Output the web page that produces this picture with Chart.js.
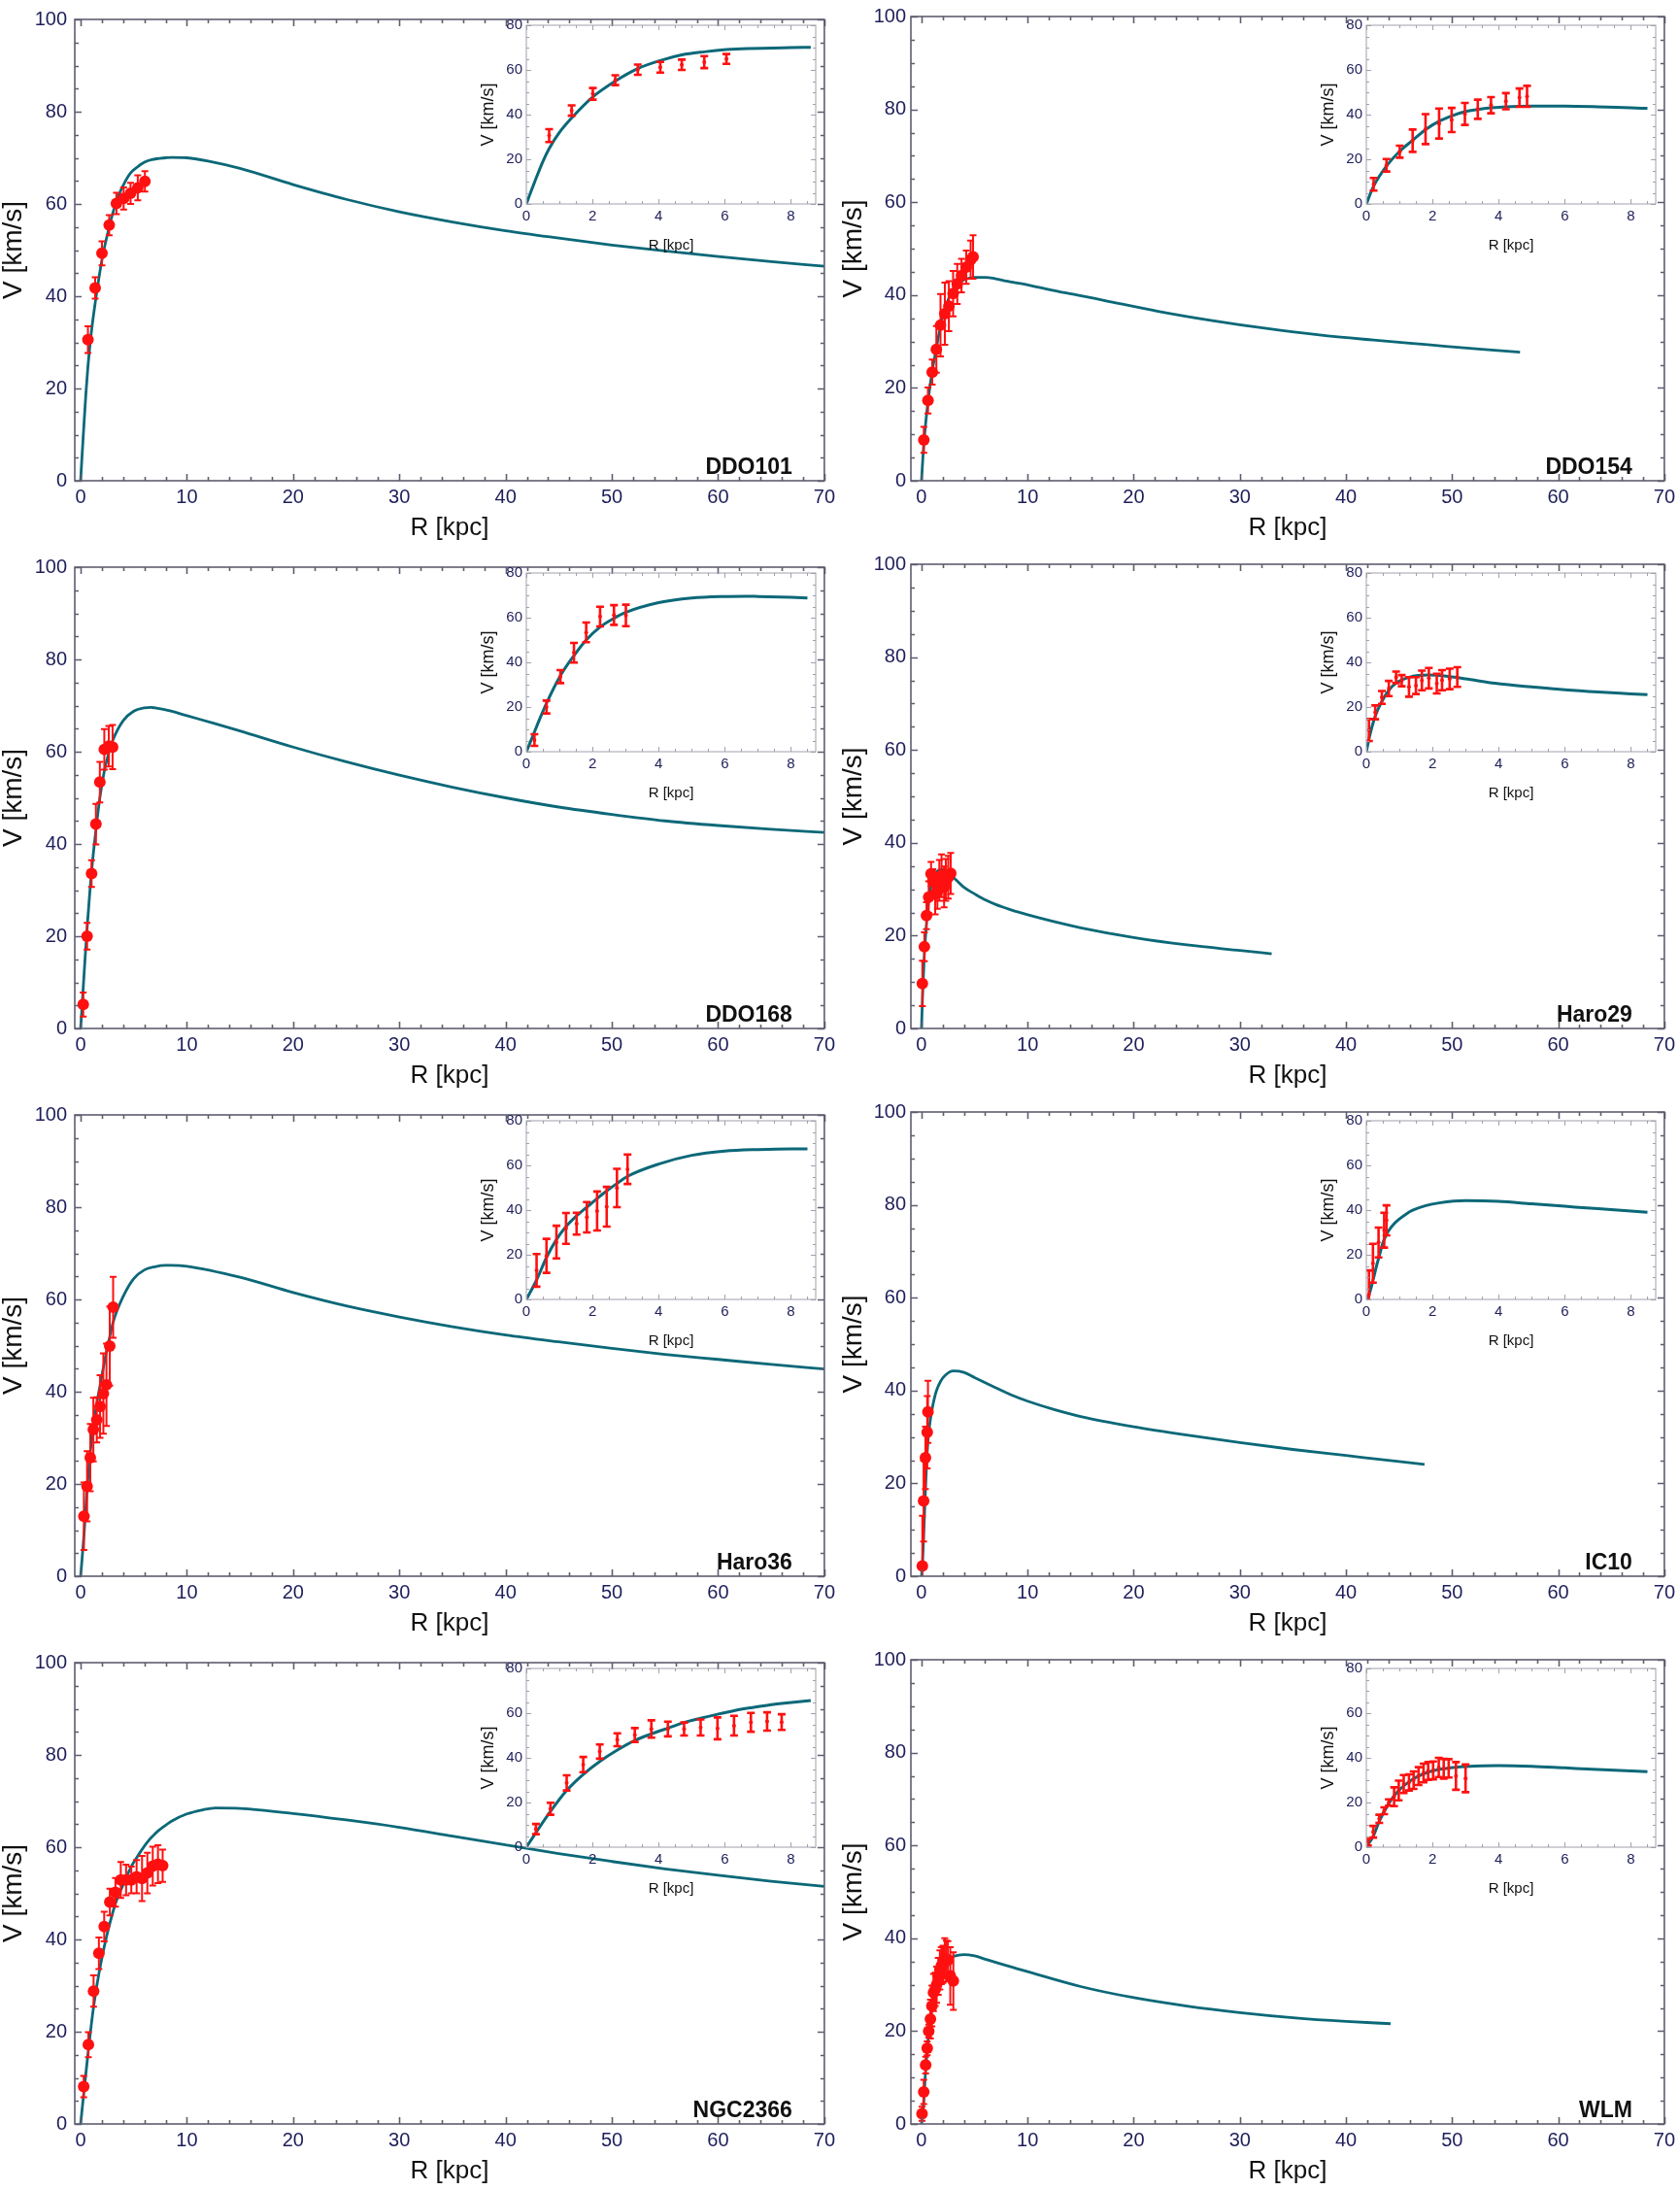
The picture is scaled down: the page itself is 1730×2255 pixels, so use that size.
<!DOCTYPE html>
<html>
<head>
<meta charset="utf-8">
<script src="https://cdn.jsdelivr.net/npm/chart.js@4.4.1/dist/chart.umd.min.js"></script>
<style>
  body { margin: 0; background: #fff; width: 1730px; height: 2255px; overflow: hidden; position: relative; }
  canvas { position: absolute; }
</style>
</head>
<body>
<script>
// tick labels
const mainXTicks = [0, 10, 20, 30, 40, 50, 60, 70];
const mainYTicks = [0, 20, 40, 60, 80, 100];
const insetXTicks = [0, 2, 4, 6, 8];
const insetYTicks = [0, 20, 40, 60, 80];

// DDO101
const ddo101R = [0.69, 1.37, 2.01, 2.69, 3.37, 4.05, 4.70, 5.38, 6.05];
const ddo101V = [30.6, 41.8, 49.3, 55.4, 60.1, 61.2, 62.3, 63.5, 64.9];
const ddo101E = [2.9, 2.3, 2.6, 2.2, 2.3, 2.4, 2.3, 2.7, 2.2];
const ddo101CurveR = [0, 0.1, 0.25, 0.5, 0.69, 1.0, 1.37, 2.0, 2.69, 3.37, 4.05, 4.7, 5.38, 6.05, 6.7, 8, 8.6, 10, 12, 15, 20, 25, 30, 35, 40, 45, 50, 55, 60, 65, 70];
const ddo101CurveV = [0, 4, 9.8, 19, 24.8, 32, 38.5, 47.8, 55, 60.6, 64.2, 66.7, 68.1, 69.1, 69.6, 70, 70.1, 70, 69.3, 67.7, 64.2, 61, 58.3, 56.1, 54.2, 52.6, 51.1, 49.8, 48.6, 47.5, 46.5];

// DDO154
const ddo154R = [0.22, 0.61, 1.01, 1.40, 1.79, 2.20, 2.58, 2.98, 3.37, 3.77, 4.22, 4.63, 4.86];
const ddo154V = [8.8, 17.3, 23.4, 28.3, 33.5, 36, 37.6, 40.3, 42.4, 44.2, 46, 47.6, 48.2];
const ddo154E = [2.8, 2.8, 2.7, 5, 6.7, 6.7, 5.4, 4.9, 4.3, 3.6, 3.6, 4.1, 4.7];
const ddo154CurveR = [0, 0.22, 0.61, 1.0, 1.4, 1.79, 2.2, 2.58, 2.98, 3.37, 3.77, 4.22, 5, 6, 7, 8, 8.5, 10, 12.2, 14.7, 17.3, 22.3, 27.4, 32.5, 37.5, 42.6, 47.7, 52.8, 56.4];
const ddo154CurveV = [0, 8, 17, 23.5, 28.5, 33.3, 37, 39.4, 41.3, 42.3, 43, 43.5, 43.8, 43.8, 43.5, 43, 42.8, 42.2, 41.1, 40, 38.8, 36.5, 34.5, 32.8, 31.4, 30.3, 29.3, 28.3, 27.7];

// DDO168
const ddo168R = [0.245, 0.61, 1.03, 1.44, 1.81, 2.23, 2.65, 3.01];
const ddo168V = [5.2, 20, 33.6, 44.3, 53.4, 60.5, 61.2, 61];
const ddo168E = [2.6, 2.9, 2.9, 4.4, 4.4, 4.4, 4.4, 4.8];
const ddo168CurveR = [0, 0.1, 0.25, 0.4, 0.61, 1.03, 1.44, 1.81, 2.23, 2.65, 3.0, 4, 5, 6, 6.6, 7, 8, 8.5, 10, 12.5, 15, 20, 25, 30, 35, 40, 45, 50, 55, 60, 65, 70];
const ddo168CurveV = [0, 3.5, 9, 14.5, 21.7, 34, 43, 50, 55.8, 59.7, 62.3, 66.7, 68.8, 69.5, 69.6, 69.5, 69.1, 68.8, 67.8, 66.2, 64.5, 61, 57.8, 54.9, 52.3, 50, 48, 46.4, 45, 44, 43.2, 42.5];

// Haro29
const haro29R = [0.08, 0.27, 0.47, 0.68, 0.90, 1.07, 1.29, 1.50, 1.68, 1.89, 2.13, 2.29, 2.52, 2.75];
const haro29V = [9.7, 17.6, 24.3, 28.3, 33.3, 31.8, 29, 29.6, 31.9, 32.9, 30.5, 32, 32.6, 33.4];
const haro29E = [4.9, 3.1, 2.9, 3.4, 2.6, 2.5, 4.4, 3.8, 4.4, 4.6, 4.4, 4.5, 4.6, 4.4];
const haro29CurveR = [0, 0.1, 0.27, 0.47, 0.68, 0.9, 1.29, 1.89, 2.52, 3, 4, 5, 6, 7, 8, 8.5, 10, 12, 15, 20, 25, 30, 33];
const haro29CurveV = [0, 7, 16, 22.5, 27.5, 30.7, 33.3, 34.3, 33.6, 32.6, 30.4, 29, 27.7, 26.7, 25.9, 25.5, 24.5, 23.3, 21.7, 19.6, 18, 16.8, 16.1];

// Haro36
const haro36R = [0.31, 0.61, 0.91, 1.20, 1.52, 1.83, 2.14, 2.43, 2.74, 3.06];
const haro36V = [13, 19.5, 25.7, 31.8, 33.9, 36.8, 39.6, 41.5, 49.9, 58.3];
const haro36E = [7.3, 7.6, 7.3, 6.9, 4.9, 6.8, 8.7, 8.9, 8.6, 6.6];
const haro36CurveR = [0, 0.31, 0.61, 0.91, 1.2, 1.52, 1.83, 2.14, 2.43, 2.74, 3.06, 4, 5, 6, 7, 8, 8.5, 10, 15, 20, 25, 30, 35, 40, 45, 50, 55, 60, 65, 70];
const haro36CurveV = [0, 8.7, 18.8, 26.8, 32.6, 37.4, 41.3, 45.2, 48.6, 51.9, 55.1, 60.6, 64.5, 66.4, 67.1, 67.4, 67.4, 67.2, 64.8, 61.5, 58.6, 56.2, 54.1, 52.3, 50.8, 49.4, 48.1, 47, 45.9, 44.9];

// IC10
const ic10R = [0.08, 0.20, 0.37, 0.54, 0.61];
const ic10V = [2.2, 16.2, 25.5, 31, 35.4];
const ic10E = [10.8, 8.7, 6.7, 7.8, 6.7];
const ic10CurveR = [0, 0.1, 0.2, 0.3, 0.4, 0.5, 0.6, 0.7, 0.85, 1.0, 1.2, 1.4, 1.8, 2.2, 3, 4, 5, 6, 7, 8.5, 10, 12.5, 15, 20, 25, 30, 35, 40, 45, 47.4];
const ic10CurveV = [0, 3, 8.5, 14.5, 20, 25.3, 28.8, 31.3, 34, 36, 38.2, 39.9, 42, 43.2, 44.2, 43.9, 42.8, 41.7, 40.6, 39, 37.7, 35.9, 34.4, 32.2, 30.4, 28.8, 27.3, 26, 24.7, 24.1];

// NGC2366
const ngc2366R = [0.29, 0.73, 1.22, 1.72, 2.22, 2.75, 3.28, 3.78, 4.28, 4.77, 5.27, 5.78, 6.28, 6.79, 7.28, 7.72];
const ngc2366V = [8.1, 17.2, 28.8, 37, 42.8, 48.1, 50.2, 52.9, 52.9, 52.9, 53.6, 53.2, 54.4, 55.9, 56.3, 56];
const ngc2366E = [2.3, 2.7, 3.4, 3.4, 3.2, 2.9, 3.1, 3.9, 3.3, 2.9, 3.6, 4.9, 4.4, 4.2, 4.1, 3.5];
const ngc2366CurveR = [0, 0.29, 0.73, 1.22, 1.72, 2.22, 2.75, 3.28, 3.78, 4.28, 4.77, 5.27, 5.78, 6.28, 6.79, 7.28, 7.72, 8.6, 10, 11.5, 12.7, 15, 20, 25, 30, 35, 40, 45, 50, 55, 60, 65, 70];
const ngc2366CurveV = [0, 6.5, 16, 25.4, 32.6, 38.4, 43.5, 47.8, 50.7, 53.3, 55.8, 57.7, 59.5, 61.1, 62.4, 63.5, 64.3, 65.7, 67.2, 68.1, 68.5, 68.4, 67.3, 65.9, 64.3, 62.4, 60.5, 58.6, 56.9, 55.3, 53.9, 52.6, 51.5];

// WLM
const wlmR = [0.05, 0.21, 0.39, 0.54, 0.68, 0.84, 0.98, 1.13, 1.29, 1.43, 1.58, 1.73, 1.87, 2.02, 2.19, 2.34, 2.49, 2.71, 3.0];
const wlmV = [2.2, 6.9, 12.7, 16.3, 20, 22.6, 25.4, 28.3, 29, 30, 31.8, 33.2, 34.1, 34.4, 35.7, 35.1, 35.3, 31.9, 30.8];
const wlmE = [1.5, 2.6, 1.8, 1.5, 1.4, 4.2, 4.4, 4, 3.6, 3.9, 4, 4.2, 4, 4, 4.3, 4.4, 4.1, 6.2, 6.2];
const wlmCurveR = [0, 0.05, 0.2, 0.39, 0.68, 0.98, 1.29, 1.58, 1.87, 2.19, 2.71, 3.0, 4.0, 5.0, 6.0, 7.0, 8.5, 10, 15, 20, 25, 30, 35, 40, 44.2];
const wlmCurveV = [0, 1.2, 4.6, 11.6, 19.6, 25.4, 29.3, 31.9, 33.6, 34.8, 35.8, 36.1, 36.5, 36.2, 35.5, 34.8, 33.8, 32.8, 29.6, 27.2, 25.4, 24, 22.9, 22.1, 21.6];

const panels = [
  { name: 'DDO101', r: ddo101R, v: ddo101V, e: ddo101E, cr: ddo101CurveR, cv: ddo101CurveV },
  { name: 'DDO154', r: ddo154R, v: ddo154V, e: ddo154E, cr: ddo154CurveR, cv: ddo154CurveV },
  { name: 'DDO168', r: ddo168R, v: ddo168V, e: ddo168E, cr: ddo168CurveR, cv: ddo168CurveV },
  { name: 'Haro29', r: haro29R, v: haro29V, e: haro29E, cr: haro29CurveR, cv: haro29CurveV },
  { name: 'Haro36', r: haro36R, v: haro36V, e: haro36E, cr: haro36CurveR, cv: haro36CurveV },
  { name: 'IC10', r: ic10R, v: ic10V, e: ic10E, cr: ic10CurveR, cv: ic10CurveV },
  { name: 'NGC2366', r: ngc2366R, v: ngc2366V, e: ngc2366E, cr: ngc2366CurveR, cv: ngc2366CurveV },
  { name: 'WLM', r: wlmR, v: wlmV, e: wlmE, cr: wlmCurveR, cv: wlmCurveV }
];

const FONT = "'Liberation Sans', Arial, sans-serif";
const RED = '#ff1010';
const TEAL = '#0b6878';
const NAVY = '#1e1e5a';

// Mathematica-style frame with inward ticks on all four sides
const framePlugin = {
  id: 'frame',
  afterDraw(chart, args, o) {
    const { ctx, chartArea: a, scales: { x, y } } = chart;
    ctx.save();
    ctx.strokeStyle = o.color;
    ctx.lineWidth = o.width;
    ctx.strokeRect(a.left, a.top, a.right - a.left, a.bottom - a.top);
    ctx.beginPath();
    const nx = Math.round(o.xEnd / o.xMinor);
    for (let i = 0; i <= nx; i++) {
      const v = i * o.xMinor;
      const major = Math.abs(v / o.xMajor - Math.round(v / o.xMajor)) < 1e-6;
      const len = major ? o.majorLen : o.minorLen;
      const px = Math.round(x.getPixelForValue(v)) + 0.5;
      ctx.moveTo(px, a.bottom); ctx.lineTo(px, a.bottom - len);
      ctx.moveTo(px, a.top); ctx.lineTo(px, a.top + len);
    }
    const ny = Math.round(o.yEnd / o.yMinor);
    for (let i = 0; i <= ny; i++) {
      const v = i * o.yMinor;
      const major = Math.abs(v / o.yMajor - Math.round(v / o.yMajor)) < 1e-6;
      const len = major ? o.majorLen : o.minorLen;
      const py = Math.round(y.getPixelForValue(v)) + 0.5;
      ctx.moveTo(a.left, py); ctx.lineTo(a.left + len, py);
      ctx.moveTo(a.right, py); ctx.lineTo(a.right - len, py);
    }
    ctx.stroke();
    ctx.restore();
  }
};

// vertical error bars with caps
const errorBarPlugin = {
  id: 'errorBars',
  afterDatasetsDraw(chart) {
    const { ctx, chartArea: a, scales: { x, y } } = chart;
    chart.data.datasets.forEach(ds => {
      if (!ds.errors) return;
      ctx.save();
      ctx.beginPath();
      ctx.rect(a.left, a.top, a.right - a.left, a.bottom - a.top);
      ctx.clip();
      ctx.strokeStyle = RED;
      ctx.lineWidth = ds.errorWidth;
      const c = ds.errorCap;
      ds.data.forEach((p, i) => {
        const px = x.getPixelForValue(p.x);
        const y1 = y.getPixelForValue(p.y - ds.errors[i]);
        const y2 = y.getPixelForValue(p.y + ds.errors[i]);
        ctx.beginPath();
        ctx.moveTo(px, y1); ctx.lineTo(px, y2);
        ctx.moveTo(px - c, y1); ctx.lineTo(px + c, y1);
        ctx.moveTo(px - c, y2); ctx.lineTo(px + c, y2);
        ctx.stroke();
      });
      ctx.restore();
    });
  }
};

// galaxy name in the lower right corner
const namePlugin = {
  id: 'galaxyName',
  afterDraw(chart, args, o) {
    if (!o.text) return;
    const { ctx, chartArea: a } = chart;
    ctx.save();
    ctx.font = 'bold 23px ' + FONT;
    ctx.fillStyle = '#111';
    ctx.textAlign = 'right';
    ctx.textBaseline = 'alphabetic';
    ctx.fillText(o.text, a.right - 33, a.bottom - 7);
    ctx.restore();
  }
};

function makeCanvas(left, top, w, h) {
  const c = document.createElement('canvas');
  c.width = w; c.height = h;
  c.style.left = left + 'px'; c.style.top = top + 'px';
  c.style.width = w + 'px'; c.style.height = h + 'px';
  document.body.appendChild(c);
  return c;
}

function buildChart(canvas, p, opt) {
  const points = p.r.map((r, i) => ({ x: r, y: p.v[i] }));
  const curve = p.cr.map((r, i) => ({ x: r, y: p.cv[i] })).filter(d => d.x <= opt.curveMax);
  return new Chart(canvas, {
    type: 'scatter',
    data: {
      datasets: [
        {
          data: points,
          pointRadius: opt.pointRadius,
          pointBackgroundColor: RED,
          pointBorderWidth: 0,
          errors: p.e,
          errorCap: opt.cap,
          errorWidth: opt.errWidth
        },
        {
          type: 'line',
          data: curve,
          borderColor: TEAL,
          borderWidth: opt.lineWidth,
          pointRadius: 0,
          fill: false,
          cubicInterpolationMode: 'monotone'
        }
      ]
    },
    options: {
      responsive: false,
      animation: false,
      devicePixelRatio: 1,
      layout: { padding: opt.padding },
      plugins: {
        legend: { display: false },
        tooltip: { enabled: false },
        frame: opt.frame,
        galaxyName: { text: opt.name }
      },
      scales: {
        x: {
          type: 'linear',
          min: opt.xmin,
          max: opt.xmax,
          grid: { display: false, drawTicks: false },
          border: { display: false },
          afterBuildTicks: s => { s.ticks = opt.xTicks.map(v => ({ value: v })); },
          afterFit: s => { s.height = opt.xAxisHeight; },
          ticks: { font: { size: opt.tickSize, family: FONT }, color: NAVY, padding: opt.xTickPad, maxRotation: 0, autoSkip: false },
          title: { display: true, text: 'R [kpc]', font: { size: opt.xTitleSize, family: FONT, lineHeight: 1 }, color: '#111', padding: { top: 0, bottom: opt.xTitlePad } }
        },
        y: {
          type: 'linear',
          min: 0,
          max: opt.ymax,
          grid: { display: false, drawTicks: false },
          border: { display: false },
          afterBuildTicks: s => { s.ticks = opt.yTicks.map(v => ({ value: v })); },
          afterFit: s => { s.width = opt.yAxisWidth; },
          ticks: { font: { size: opt.tickSize, family: FONT }, color: NAVY, padding: opt.yTickPad, autoSkip: false },
          title: { display: true, text: 'V [km/s]', font: { size: opt.yTitleSize, family: FONT, lineHeight: 1 }, color: '#111', padding: { top: opt.yTitlePad, bottom: 0 } }
        }
      }
    },
    plugins: [errorBarPlugin, framePlugin, namePlugin]
  });
}

panels.forEach((p, i) => {
  const col = i % 2;
  const row = Math.floor(i / 2);
  const left = col * 865;
  const top = row * 564;

  buildChart(makeCanvas(left, top, 865, 564), p, {
    name: p.name,
    xmin: col === 0 ? -0.55 : -1,
    xmax: 70,
    ymax: 100,
    xTicks: mainXTicks,
    yTicks: mainYTicks,
    curveMax: 1000,
    padding: { top: 13, right: col === 0 ? 11 : 14, left: 0, bottom: 0 },
    xAxisHeight: 69,
    yAxisWidth: col === 0 ? 77 : 73,
    tickSize: 20,
    xTitleSize: 26,
    yTitleSize: 28,
    xTickPad: 5,
    yTickPad: col === 0 ? 8 : 5,
    xTitlePad: 7,
    yTitlePad: 0,
    pointRadius: 6,
    cap: 3.5,
    errWidth: 2,
    lineWidth: 2.8,
    frame: { color: '#5e5e70', width: 1.6, xEnd: 70, xMinor: 2, xMajor: 10, yEnd: 100, yMinor: 5, yMajor: 20, majorLen: 7, minorLen: 4 }
  });

  buildChart(makeCanvas(left + 490, top + 12, 370, 258), p, {
    name: '',
    xmin: 0,
    xmax: 8.75,
    ymax: 80,
    xTicks: insetXTicks,
    yTicks: insetYTicks,
    curveMax: 8.6,
    padding: { top: 14, right: 20, left: 0, bottom: 0 },
    xAxisHeight: 60,
    yAxisWidth: 52,
    tickSize: 15,
    xTitleSize: 15,
    yTitleSize: 18,
    xTickPad: 4,
    yTickPad: 4,
    xTitlePad: 10,
    yTitlePad: 4,
    pointRadius: 2,
    cap: 4,
    errWidth: 2.6,
    lineWidth: 3,
    frame: { color: '#a0a0ac', width: 1, xEnd: 8.5, xMinor: 0.5, xMajor: 2, yEnd: 80, yMinor: 5, yMajor: 20, majorLen: 5, minorLen: 3 }
  });
});
</script>
</body>
</html>
